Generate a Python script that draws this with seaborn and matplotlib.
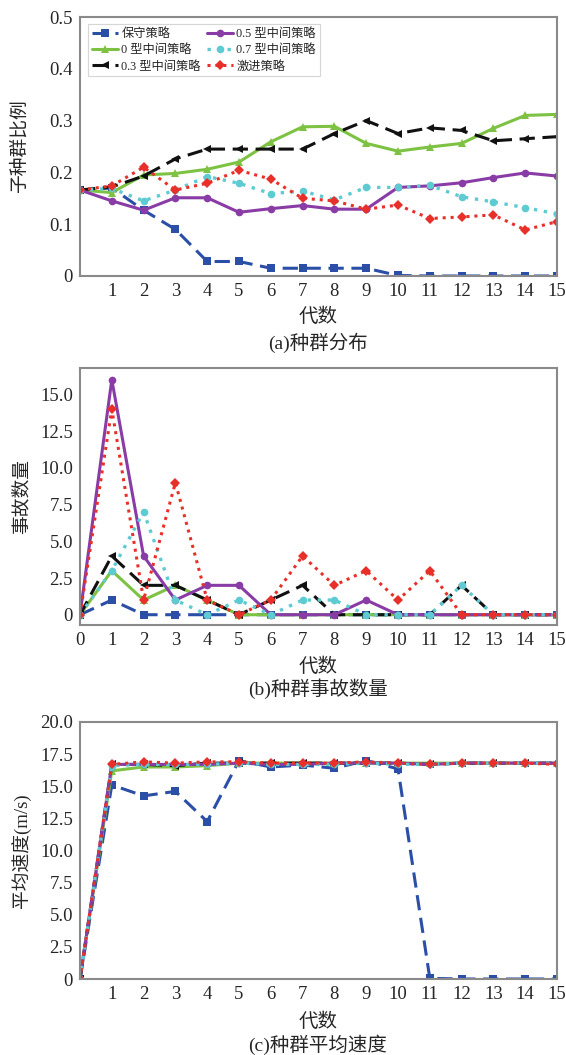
import numpy as np
import pandas as pd
import matplotlib
matplotlib.use("Agg")
import matplotlib.pyplot as plt
import seaborn as sns
from matplotlib.ticker import FuncFormatter

sns.set_style("white")
plt.rcParams['font.family'] = ['Liberation Serif', 'Noto Sans CJK SC']

gens = list(range(16))
series_names = ["保守策略", "0 型中间策略", "0.3 型中间策略", "0.5 型中间策略", "0.7 型中间策略", "激进策略"]

# (a) sub-population proportion
prop_cons = [0.166, 0.170, 0.127, 0.090, 0.028, 0.028, 0.015, 0.015, 0.015, 0.015, 0.001, 0.0, 0.0, 0.0, 0.0, 0.0]
prop_0 = [0.166, 0.161, 0.195, 0.198, 0.206, 0.220, 0.259, 0.288, 0.289, 0.256, 0.241, 0.249, 0.256, 0.285, 0.310, 0.312]
prop_03 = [0.166, 0.172, 0.193, 0.226, 0.245, 0.245, 0.245, 0.245, 0.275, 0.300, 0.275, 0.286, 0.281, 0.261, 0.265, 0.269]
prop_05 = [0.166, 0.145, 0.127, 0.151, 0.151, 0.123, 0.130, 0.136, 0.129, 0.129, 0.171, 0.174, 0.180, 0.190, 0.199, 0.193]
prop_07 = [0.166, 0.169, 0.145, 0.166, 0.192, 0.179, 0.159, 0.164, 0.147, 0.171, 0.171, 0.175, 0.153, 0.143, 0.132, 0.120]
prop_agg = [0.166, 0.174, 0.210, 0.166, 0.179, 0.204, 0.187, 0.150, 0.145, 0.129, 0.137, 0.111, 0.114, 0.118, 0.089, 0.105]

# (b) accident counts
acc_cons = [0, 1, 0, 0, 0, 0, 0, 0, 0, 0, 0, 0, 0, 0, 0, 0]
acc_0 = [0, 3, 1, 2, 1, 0, 0, 0, 0, 0, 0, 0, 0, 0, 0, 0]
acc_03 = [0, 4, 2, 2, 1, 0, 1, 2, 0, 0, 0, 0, 2, 0, 0, 0]
acc_05 = [0, 16, 4, 1, 2, 2, 0, 0, 0, 1, 0, 0, 0, 0, 0, 0]
acc_07 = [0, 3, 7, 1, 0, 1, 0, 1, 1, 0, 0, 0, 2, 0, 0, 0]
acc_agg = [0, 14, 1, 9, 1, 0, 1, 4, 2, 3, 1, 3, 0, 0, 0, 0]

# (c) mean speed
spd_cons = [0, 15.1, 14.25, 14.6, 12.25, 17.0, 16.5, 16.65, 16.4, 17.0, 16.35, 0.05, 0.0, 0.0, 0.0, 0.0]
spd_0 = [0, 16.2, 16.5, 16.5, 16.6, 16.8, 16.8, 16.8, 16.8, 16.8, 16.8, 16.8, 16.8, 16.8, 16.8, 16.8]
spd_03 = [0, 16.7, 16.7, 16.6, 16.8, 16.8, 16.8, 16.8, 16.8, 16.8, 16.8, 16.7, 16.8, 16.8, 16.8, 16.8]
spd_05 = [0, 16.7, 16.7, 16.7, 16.7, 16.8, 16.7, 16.7, 16.8, 16.8, 16.8, 16.7, 16.8, 16.8, 16.8, 16.8]
spd_07 = [0, 16.6, 16.7, 16.7, 16.7, 16.8, 16.7, 16.7, 16.7, 16.8, 16.7, 16.7, 16.8, 16.8, 16.8, 16.8]
spd_agg = [0, 16.7, 16.9, 16.8, 16.9, 16.9, 16.8, 16.8, 16.8, 16.9, 16.8, 16.7, 16.8, 16.8, 16.8, 16.7]

colors = ["#2b4ea6", "#7dc242", "#111111", "#8a3ca6", "#5ecbd3", "#e8302a"]
lstyles = [(0, (5, 2.5)), "-", (0, (5, 2.5)), "-", (0, (1, 2)), (0, (1, 1.6))]
markers = ["s", "^", "<", "o", "o", "D"]
lwidths = [2.2, 2.2, 2.2, 2.2, 2.4, 2.2]

fig = plt.figure(figsize=(5.66, 10.55), dpi=100)
W, H = 566, 1055
def add_ax(l, t, r, b):
    return fig.add_axes([l / W, 1 - b / H, (r - l) / W, (b - t) / H])

ax1 = add_ax(80, 17, 557, 276)
ax2 = add_ax(80, 368, 557, 625)
ax3 = add_ax(80, 722, 557, 979)

def draw(ax, data_list, legend=False):
    for i, (name, vals) in enumerate(zip(series_names, data_list)):
        df = pd.DataFrame({"代数": gens, "值": vals})
        sns.lineplot(data=df, x="代数", y="值", ax=ax, color=colors[i],
                     linestyle=lstyles[i], marker=markers[i], markersize=5.5,
                     markeredgewidth=0, linewidth=lwidths[i], label=name if legend else None,
                     legend=False)

draw(ax1, [prop_cons, prop_0, prop_03, prop_05, prop_07, prop_agg], legend=True)
draw(ax2, [acc_cons, acc_0, acc_03, acc_05, acc_07, acc_agg])
draw(ax3, [spd_cons, spd_0, spd_03, spd_05, spd_07, spd_agg])

fmt = FuncFormatter(lambda v, p: "0" if abs(v) < 1e-9 else f"{v:.1f}")

ax1.set_xlim(0, 15); ax1.set_ylim(0, 0.5)
ax1.set_xticks(range(1, 16)); ax1.set_yticks(np.arange(0, 0.51, 0.1))
ax1.yaxis.set_major_formatter(fmt)
ax1.set_ylabel("子种群比例", fontsize=13.5)

ax2.set_xlim(0, 15); ax2.set_ylim(-0.7, 16.8)
ax2.set_xticks(range(0, 16)); ax2.set_yticks(np.arange(0, 15.1, 2.5))
ax2.yaxis.set_major_formatter(fmt)
ax2.set_ylabel("事故数量", fontsize=13.5)

ax3.set_xlim(0, 15); ax3.set_ylim(0, 20)
ax3.set_xticks(range(1, 16)); ax3.set_yticks(np.arange(0, 20.1, 2.5))
ax3.yaxis.set_major_formatter(fmt)
ax3.set_ylabel("平均速度(m/s)", fontsize=13.5)

axes_info = [(ax1, 17, 276, 317, 20), (ax2, 368, 625, 667, 22), (ax3, 722, 979, 1022, 22)]
for ax, top, bot, xlab_y, ylab_x in axes_info:
    ax.set_xlabel("代数", fontsize=14)
    h = bot - top
    ax.xaxis.set_label_coords(0.5, -(xlab_y - bot) / h)
    ax.xaxis.label.set_va("center")
    ax.yaxis.set_label_coords((ylab_x - 80) / 477, 0.5)
    ax.yaxis.label.set_va("center")
    for s in ax.spines.values():
        s.set_color("#8a8a8a"); s.set_linewidth(1.5)
    ax.tick_params(axis="both", labelsize=13.5, direction="out", length=3, width=1,
                   color="#555555", pad=2)
    ax.grid(False)

leg = ax1.legend(loc="upper left", ncol=2, fontsize=8.8, frameon=True, fancybox=False,
                 edgecolor="#cccccc", borderpad=0.3, labelspacing=0.35,
                 handlelength=2.1, handletextpad=0.3, columnspacing=0.5,
                 bbox_to_anchor=(0.005, 0.995))
leg.get_frame().set_linewidth(0.8)

fig.text(318 / W, 1 - 343 / H, "(a)种群分布", ha="center", va="center", fontsize=14)
fig.text(318 / W, 1 - 689 / H, "(b)种群事故数量", ha="center", va="center", fontsize=14)
fig.text(318 / W, 1 - 1045 / H, "(c)种群平均速度", ha="center", va="center", fontsize=14)

fig.savefig("out.png", dpi=100)
